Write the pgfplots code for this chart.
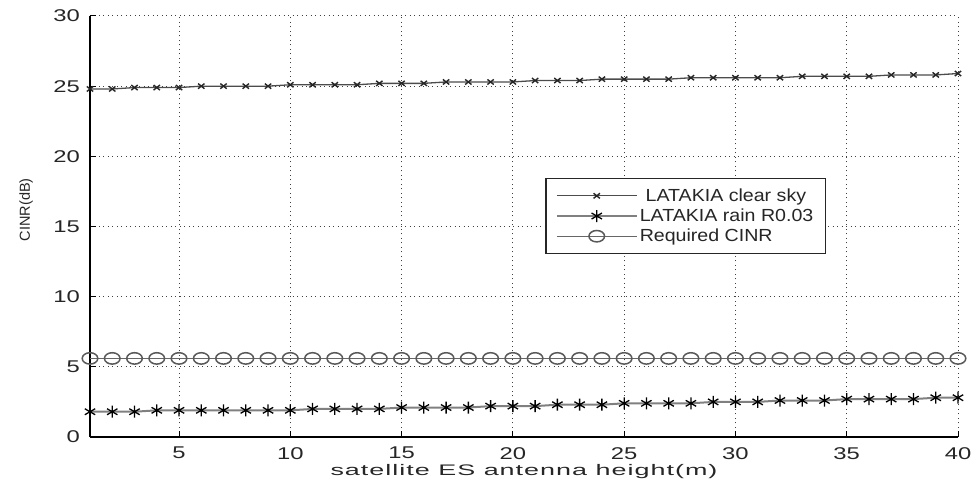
\documentclass[border=0pt]{standalone}
\usepackage{pgfplots}
\pgfplotsset{compat=1.18}
\usepackage{fontspec}
\setmainfont{Liberation Sans}
\newfontfamily\xlabfont[FakeStretch=1.6, LetterSpace=6]{Liberation Sans}
\newcommand{\legtxt}[1]{\fontsize{17.5}{22}\selectfont\scalebox{1.12}[1]{#1}}
\newcommand{\tk}[1]{\fontsize{17}{20}\selectfont\scalebox{1.4}[1]{#1}}
\begin{document}
\begin{tikzpicture}
\begin{axis}[
  scale only axis,
  width=868pt, height=421pt,
  xmin=1, xmax=40, ymin=0, ymax=30,
  xtick={5,10,...,40}, ytick={0,5,...,30},
  axis x line=bottom, axis y line=left,
  axis line style={-, black, line width=1.5pt},
  tick align=inside,
  major tick length=6pt,
  tick style={black, line width=1pt},
  grid=major,
  grid style={black!75, line width=1pt, dash pattern=on 1pt off 3.5pt},
  /pgf/number format/assume math mode=true,
  xticklabel={\tk{\pgfmathprintnumber{\tick}}},
  yticklabel={\tk{\pgfmathprintnumber{\tick}}},
  tick label style={text=black!85, inner sep=0pt},
  xticklabel style={anchor=north, yshift=-10pt},
  yticklabel style={anchor=east, xshift=-10pt},
  xlabel={\xlabfont\fontsize{15.3}{18}\selectfont\scalebox{1.1}[1]{satellite ES antenna height(m)}},
  ylabel={\fontsize{14.5}{17}\selectfont CINR(dB)},
  xlabel style={text=black!85, at={(rel axis cs:0.5,0)}, anchor=base, yshift=-39pt},
  ylabel style={text=black!85, at={(rel axis cs:0,0.54)}, anchor=center, yshift=64pt},
  legend style={at={(0.5242,0.6152)}, anchor=north west, text=black!85, draw=black!85, line width=1.5pt, inner xsep=10pt, inner ysep=8pt, row sep=2pt},
  legend cell align=left,
  legend image code/.code={\draw[mark repeat=2,mark phase=2,#1] plot coordinates {(0pt,0pt)(40pt,0pt)(80pt,0pt)};},
]
\addplot[black!70, line width=1.3pt, mark=x, mark size=4.5pt, mark options={black!85, line width=1.4pt, yscale=0.8}] coordinates {
(1,24.8)(2,24.8)(3,24.9)(4,24.9)(5,24.9)(6,25.0)(7,25.0)(8,25.0)(9,25.0)(10,25.1)
(11,25.1)(12,25.1)(13,25.1)(14,25.2)(15,25.2)(16,25.2)(17,25.3)(18,25.3)(19,25.3)(20,25.3)
(21,25.4)(22,25.4)(23,25.4)(24,25.5)(25,25.5)(26,25.5)(27,25.5)(28,25.6)(29,25.6)(30,25.6)
(31,25.6)(32,25.6)(33,25.7)(34,25.7)(35,25.7)(36,25.7)(37,25.8)(38,25.8)(39,25.8)(40,25.9)};
\addlegendentry{\legtxt{\hspace{0.3em}LATAKIA clear sky}}
\addplot[black!50, line width=2pt, mark=asterisk, mark size=6pt, mark options={black, line width=1.3pt}] coordinates {
(1,1.8)(2,1.8)(3,1.8)(4,1.9)(5,1.9)(6,1.9)(7,1.9)(8,1.9)(9,1.9)(10,1.9)
(11,2.0)(12,2.0)(13,2.0)(14,2.0)(15,2.1)(16,2.1)(17,2.1)(18,2.1)(19,2.2)(20,2.2)
(21,2.2)(22,2.3)(23,2.3)(24,2.3)(25,2.4)(26,2.4)(27,2.4)(28,2.4)(29,2.5)(30,2.5)
(31,2.5)(32,2.6)(33,2.6)(34,2.6)(35,2.7)(36,2.7)(37,2.7)(38,2.7)(39,2.8)(40,2.8)};
\addlegendentry{\legtxt{LATAKIA rain R0.03}}
\addplot[black!60, line width=1.3pt, mark=o, mark size=6pt, mark options={black!65, line width=1.5pt, xscale=1.3, yscale=0.95}] coordinates {
(1,5.6)(2,5.6)(3,5.6)(4,5.6)(5,5.6)(6,5.6)(7,5.6)(8,5.6)(9,5.6)(10,5.6)
(11,5.6)(12,5.6)(13,5.6)(14,5.6)(15,5.6)(16,5.6)(17,5.6)(18,5.6)(19,5.6)(20,5.6)
(21,5.6)(22,5.6)(23,5.6)(24,5.6)(25,5.6)(26,5.6)(27,5.6)(28,5.6)(29,5.6)(30,5.6)
(31,5.6)(32,5.6)(33,5.6)(34,5.6)(35,5.6)(36,5.6)(37,5.6)(38,5.6)(39,5.6)(40,5.6)};
\addlegendentry{\legtxt{Required CINR}}
\end{axis}
\path (current axis.south west) ++(-90pt,-49pt) coordinate (bbA);
\path (current axis.north east) ++(14pt,16pt) coordinate (bbB);
\pgfresetboundingbox
\path (bbA) rectangle (bbB);
\end{tikzpicture}
\end{document}
